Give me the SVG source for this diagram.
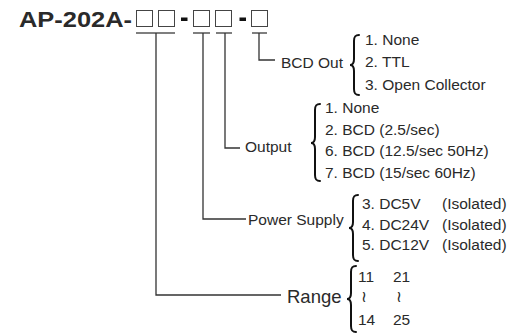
<svg xmlns="http://www.w3.org/2000/svg" width="514" height="333" viewBox="0 0 514 333">
<style>
text{font-family:"Liberation Sans",Arial,sans-serif;fill:#2a2a2a}
.t{font-size:15.5px}
.r{font-size:18.5px}
.box{fill:none;stroke:#444;stroke-width:1}
.ul{stroke:#555;stroke-width:1.5;fill:none}
.ln{stroke:#333;stroke-width:1.3;fill:none}
.br{stroke:#111;stroke-width:2;fill:none;stroke-linecap:round}
</style>
<rect width="514" height="333" fill="#fff"/>
<g id="title">
<text x="19" y="27" font-size="22" font-weight="bold" fill="#111" textLength="113" lengthAdjust="spacingAndGlyphs">AP-202A-</text>
<rect class="box" x="136.5" y="10.5" width="16" height="16"/>
<rect class="box" x="158.5" y="10.5" width="16" height="16"/>
<rect x="181" y="17.5" width="6.5" height="3.5" fill="#111"/>
<rect class="box" x="193.5" y="10.5" width="16" height="16"/>
<rect class="box" x="215.5" y="10.5" width="16" height="16"/>
<rect x="239.5" y="17.5" width="6.5" height="3.5" fill="#111"/>
<rect class="box" x="251.5" y="10.5" width="16" height="16"/>
</g>
<g id="connectors">
<path class="ul" d="M136 33H175M193 33H210M216 33H232M252 33H267"/>
<path class="ln" d="M156 33V295H281"/>
<path class="ln" d="M203 33V219H246"/>
<path class="ln" d="M225 33V148H240"/>
<path class="ln" d="M259 33V60H275"/>
</g>
<g id="bcd-out">
<text class="t" x="281" y="68">BCD Out</text>
<path class="br" d="M359 35C355 35 354 37 354 41V59C354 63 353 65 350 65C353 65 354 67 354 71V89C354 93 355 95 359 95"/>
<text class="t" x="365" y="45">1. None</text>
<text class="t" x="365" y="67">2. TTL</text>
<text class="t" x="365" y="90">3. Open Collector</text>
</g>
<g id="output">
<text class="t" x="245" y="152">Output</text>
<path class="br" d="M320 104C316 104 315 106 315 110V137C315 141 314 143 311 143C314 143 315 145 315 149V175C315 179 316 181 320 181"/>
<text class="t" x="325" y="113">1. None</text>
<text class="t" x="325" y="134.5">2. BCD (2.5/sec)</text>
<text class="t" x="325" y="156">6. BCD (12.5/sec 50Hz)</text>
<text class="t" x="325" y="177.5">7. BCD (15/sec 60Hz)</text>
</g>
<g id="power-supply">
<text class="t" x="248" y="225">Power Supply</text>
<path class="br" d="M358 195C354 195 353 197 353 201V222C353 226 352 228 349 228C352 228 353 230 353 234V255C353 259 354 261 358 261"/>
<text class="t" x="362" y="209">3. DC5V<tspan x="442">(Isolated)</tspan></text>
<text class="t" x="362" y="229.5">4. DC24V <tspan x="442">(Isolated)</tspan></text>
<text class="t" x="362" y="250">5. DC12V <tspan x="442">(Isolated)</tspan></text>
</g>
<g id="range">
<text class="r" x="287" y="303">Range</text>
<path class="br" d="M356 266C352 266 351 268 351 272V293C351 297 350 299 347 299C350 299 351 301 351 305V326C351 330 352 332 356 332"/>
<text class="t" x="358" y="282">11</text>
<text class="t" x="393" y="282">21</text>
<text class="t" x="361" y="302" font-size="11">≀</text>
<text class="t" x="396" y="302" font-size="11">≀</text>
<text class="t" x="358" y="325">14</text>
<text class="t" x="393" y="325">25</text>
</g>
</svg>
